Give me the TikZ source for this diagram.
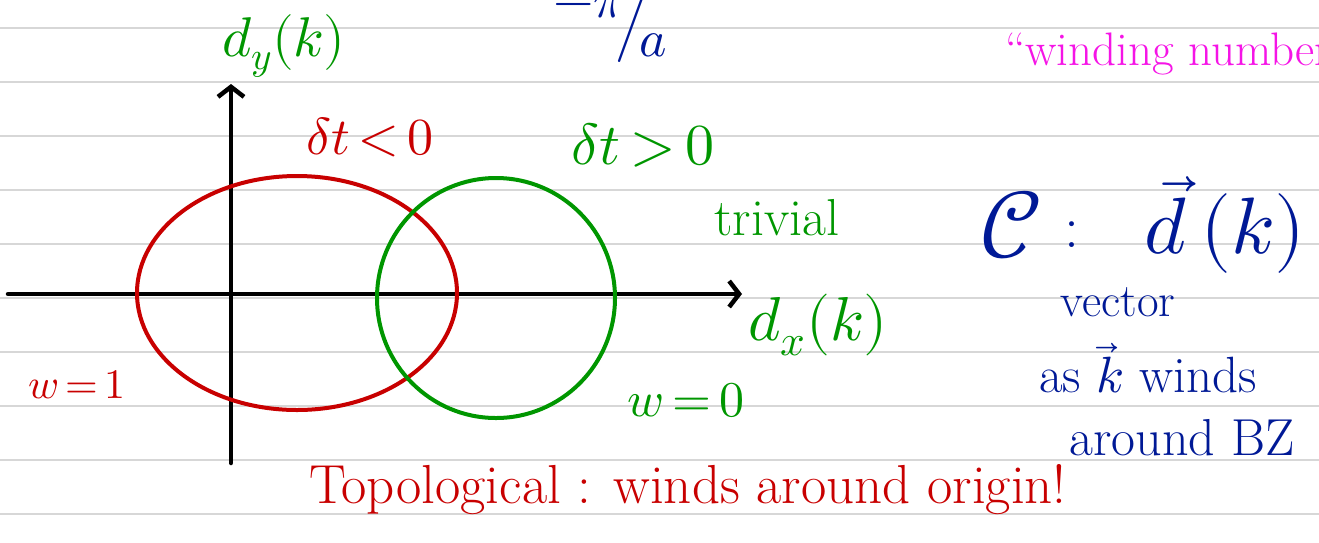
\documentclass[tikz,border=0pt]{standalone}
\usepackage{amsmath}
\usepackage{unicode-math}
\setmathfont{Latin Modern Math}
\usetikzlibrary{arrows.meta}
\definecolor{inkred}{RGB}{200,0,0}
\definecolor{inkgreen}{RGB}{0,150,0}
\definecolor{inkblue}{RGB}{0,25,150}
\definecolor{inkpink}{RGB}{245,20,230}
\definecolor{rule}{RGB}{215,215,215}
\newcommand{\fs}[1]{\fontsize{#1}{#1}\selectfont}
\tikzset{
  ruleline/.style={rule, line width=2pt},
  axisline/.style={black, line width=4.5pt, line cap=round, -{Straight Barb[length=10pt,width=26pt,line width=4.5pt]}},
  curve/.style={line width=4pt},
  lab/.style={inner sep=0pt},
}
\begin{document}
\begin{tikzpicture}[x=1pt,y=-1pt]
\useasboundingbox (0,0) rectangle (1319,542);
% ruled lines
\foreach \yy in {28,82,136,190,244,298,352,406,460,514}
  \draw[ruleline] (0,\yy) -- (1319,\yy);
% axes
\coordinate (xs) at (8,294);
\coordinate (xe) at (742,294);
\coordinate (ys) at (231,463);
\coordinate (ye) at (231,84);
\draw[axisline] (xs) -- (xe);
\draw[axisline] (ys) -- (ye);
% curves
\draw[curve, inkred] (297,293) ellipse [x radius=160, y radius=117];
\draw[curve, inkgreen] (496,298) ellipse [x radius=119, y radius=120];
% labels
\node[lab, inkblue] (pia) at (610,28) {\fs{52}$\raisebox{0.45em}{$-$}\raisebox{0.45em}{$\pi$}\!\big/\!\raisebox{-0.3em}{$a$}$};
\node[lab, inkgreen] (dy) at (284,46) {\fs{56}$d_y(k)$};
\node[lab, inkpink, anchor=base west] (wn) at (1005,65) {\fs{47}``winding number''};
\node[lab, inkred] (dtneg) at (370,137) {\fs{52}$\delta t\,{<}\,0$};
\node[lab, inkgreen] (dtpos) at (643,145) {\fs{58}$\delta t\,{>}\,0$};
\node[lab, inkgreen] (triv) at (777,218) {\fs{52}trivial};
\node[lab, inkgreen] (dx) at (818,325) {\fs{62}$d_x(k)$};
\node[lab, inkred] (w1) at (77,385) {\fs{42}$w\,{=}\,1$};
\node[lab, inkgreen] (w0) at (686,400) {\fs{50}$w\,{=}\,0$};
\node[lab, inkred] (topo) at (688,490) {\fs{55}Topological : winds around origin!};
\node[lab, inkblue] (cc) at (1012,225) {\fs{95}$\mathcal{C}$};
\node[lab, inkblue] (colon) at (1072,235) {\fs{60}:};
\node[lab, inkblue] (dk) at (1225,225) {\fs{80}$\vec d\,(k)$};
\node[lab, inkblue] (vec) at (1118,302) {\fs{47}vector};
\node[lab, inkblue] (as) at (1148,368) {\fs{51}as $\vec k$ winds};
\node[lab, inkblue] (bz) at (1182,438) {\fs{52}around BZ};
\end{tikzpicture}
\end{document}
